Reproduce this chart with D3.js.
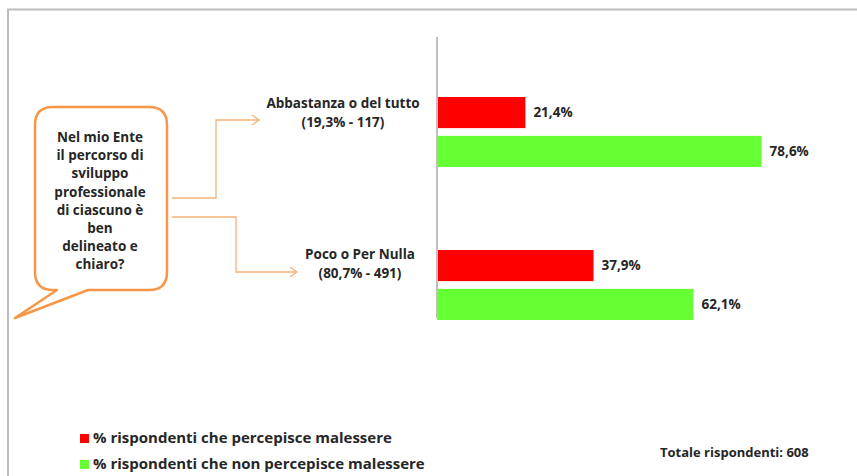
<!DOCTYPE html>
<html><head><meta charset="utf-8">
<script src="https://cdn.jsdelivr.net/npm/d3@7"></script>
<style>body{margin:0;background:#fff}svg{display:block}text{font-family:"Open Sans",Lato,sans-serif;font-weight:bold;fill:#262626}</style>
</head><body>
<script>
const categories = ["Abbastanza o del tutto", "Poco o Per Nulla"];
const categorySub = ["(19,3% - 117)", "(80,7% - 491)"];
const seriesNames = ["% rispondenti che percepisce malessere", "% rispondenti che non percepisce malessere"];
const malessere = [21.4, 37.9];
const nonMalessere = [78.6, 62.1];
const colors = ["#ff0000", "#66ff33"];
const questionLines = ["Nel mio Ente", "il percorso di", "sviluppo", "professionale", "di ciascuno è", "ben", "delineato e", "chiaro?"];
const totalLabel = "Totale rispondenti: 608";

const W = 857, H = 476;
const svg = d3.select("body").append("svg").attr("width", W).attr("height", H);

// frame
svg.append("path").attr("d", `M8,${H} V9.5 H${W}`).attr("fill","none").attr("stroke","#bdbdbd").attr("stroke-width",2);

const x = d3.scaleLinear().domain([0, 100]).range([437, 850]);
const yGroup = d3.scaleBand().domain(categories).range([97, 403]);
const ySeries = d3.scaleBand().domain([0, 1]).range([0, 70]).paddingInner(0.2);

const fmt = v => d3.format(".1f")(v).replace(".", ",") + "%";

const groups = svg.selectAll("g.grp").data(categories).enter().append("g")
  .attr("transform", d => `translate(0,${yGroup(d)})`);

const seriesVals = [malessere, nonMalessere];
groups.each(function(cat, ci) {
  const g = d3.select(this);
  seriesVals.forEach((vals, si) => {
    g.append("rect").attr("x", x(0)).attr("y", ySeries(si))
      .attr("width", x(vals[ci]) - x(0)).attr("height", ySeries.bandwidth())
      .attr("fill", colors[si]);
    g.append("text").attr("x", x(vals[ci]) + 8).attr("y", ySeries(si) + ySeries.bandwidth()/2)
      .attr("dy", "0.35em").attr("font-size", 13.5).text(fmt(vals[ci]));
  });
});

// axis line
svg.append("line").attr("x1", 437).attr("x2", 437).attr("y1", 37).attr("y2", 318)
  .attr("stroke", "#bfbfbf").attr("stroke-width", 2);

// category labels
const catPos = [[343, 104], [360, 255]];
categories.forEach((c, i) => {
  const t = svg.append("text").attr("text-anchor", "middle").attr("font-size", 13.5);
  t.append("tspan").attr("x", catPos[i][0]).attr("y", catPos[i][1] + 4).text(c);
  t.append("tspan").attr("x", catPos[i][0]).attr("y", catPos[i][1] + 23).text(categorySub[i]);
});

// connectors
const conn = "#f5b27a";
svg.append("path").attr("d", "M172,198 H216 V120 H258").attr("fill","none").attr("stroke",conn).attr("stroke-width",1.3);
svg.append("path").attr("d", "M252,115 L259,120 L252,125").attr("fill","none").attr("stroke",conn).attr("stroke-width",1.3);
svg.append("path").attr("d", "M172,217 H236 V272 H296").attr("fill","none").attr("stroke",conn).attr("stroke-width",1.3);
svg.append("path").attr("d", "M290,267 L297,272 L290,277").attr("fill","none").attr("stroke",conn).attr("stroke-width",1.3);

// bubble
const bx0 = 35, by0 = 107, bx1 = 167, by1 = 290, r = 18;
svg.append("path").attr("d",
  `M${bx0+r},${by0} H${bx1-r} Q${bx1},${by0} ${bx1},${by0+r} V${by1-r} Q${bx1},${by1} ${bx1-r},${by1}
   H88 L15,318 L57,${by1} H${bx0+r} Q${bx0},${by1} ${bx0},${by1-r} V${by0+r} Q${bx0},${by0} ${bx0+r},${by0} Z`)
  .attr("fill", "#fff").attr("stroke", "#f79646").attr("stroke-width", 2.5).attr("stroke-linejoin","round");
const qt = svg.append("text").attr("text-anchor", "middle").attr("font-size", 13.5);
questionLines.forEach((l, i) => qt.append("tspan").attr("x", 100).attr("y", 142 + i * 18.2).text(l));

// legend
seriesNames.forEach((s, i) => {
  const ly = 438 + i * 26;
  svg.append("rect").attr("x", 80).attr("y", ly - 4).attr("width", 9).attr("height", 9).attr("fill", colors[i]);
  svg.append("text").attr("x", 93).attr("y", ly).attr("dy", "0.35em").attr("font-size", 15).text(s);
});

svg.append("text").attr("x", 660).attr("y", 452).attr("dy", "0.35em").attr("font-size", 13).text(totalLabel);
</script>
</body></html>
